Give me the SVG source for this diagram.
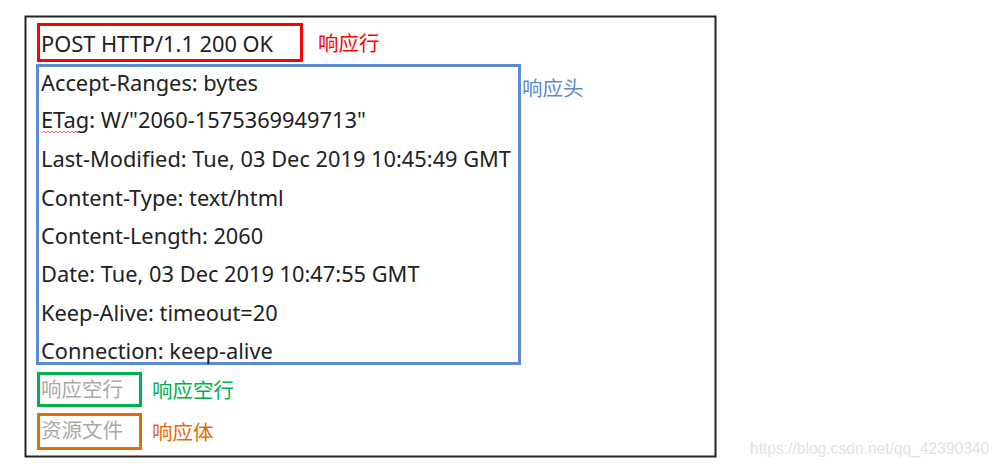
<svg xmlns="http://www.w3.org/2000/svg" width="1002" height="467" viewBox="0 0 1002 467">
<style>
.t{font-family:"Noto Sans","Noto Sans CJK SC",sans-serif;font-size:21.8px;fill:#222}
.c{font-family:"Noto Sans CJK SC","Noto Sans",sans-serif;font-size:20.5px}
.box{fill:none;stroke-width:3}
</style>
<rect x="0" y="0" width="1002" height="467" fill="#fff"/>
<g id="frame"><rect x="25.5" y="16.5" width="690" height="440" fill="none" stroke="#222" stroke-width="2"/></g>
<g id="status-line">
<rect class="box" x="38.5" y="24.5" width="263" height="36" stroke="#f00"/>
<text class="t" x="41" y="52">POST HTTP/1.1 200 OK</text>
<text class="c" x="318" y="51" fill="#f00">响应行</text>
</g>
<g id="headers">
<rect class="box" x="37.5" y="65.5" width="482" height="298" stroke="#5B8BD0"/>
<text class="t" x="41" y="91">Accept-Ranges: bytes</text>
<text class="t" x="41" y="128">ETag: W/"2060-1575369949713"</text>
<path d="M42 133 l2 -2 l2 2 l2 -2 l2 2 l2 -2 l2 2 l2 -2 l2 2 l2 -2 l2 2 l2 -2 l2 2 l2 -2 l2 2 l2 -2 l2 2 l2 -2 l2 2" fill="none" stroke="#e33" stroke-width="0.8"/>
<text class="t" x="41" y="167">Last-Modified: Tue, 03 Dec 2019 10:45:49 GMT</text>
<text class="t" x="41" y="206">Content-Type: text/html</text>
<text class="t" x="41" y="244">Content-Length: 2060</text>
<text class="t" x="41" y="282">Date: Tue, 03 Dec 2019 10:47:55 GMT</text>
<text class="t" x="41" y="321">Keep-Alive: timeout=20</text>
<text class="t" x="41" y="359">Connection: keep-alive</text>
<text class="c" x="522" y="96" fill="#5B8BD0">响应头</text>
</g>
<g id="blank-line">
<rect class="box" x="38.5" y="373.5" width="102" height="32" stroke="#00B050"/>
<text class="c" x="41" y="397" fill="#aaa">响应空行</text>
<text class="c" x="152" y="398" fill="#00B050">响应空行</text>
</g>
<g id="body">
<rect class="box" x="38.5" y="414.5" width="102" height="34" stroke="#E36C09"/>
<text class="c" x="41" y="438" fill="#aaa">资源文件</text>
<text class="c" x="152" y="440" fill="#E36C09">响应体</text>
</g>
<g id="connectors"/>
<text x="750" y="454" font-family="Liberation Sans, sans-serif" font-size="15.6" fill="#e2e2e2">https://blog.csdn.net/qq_42390340</text>
</svg>
